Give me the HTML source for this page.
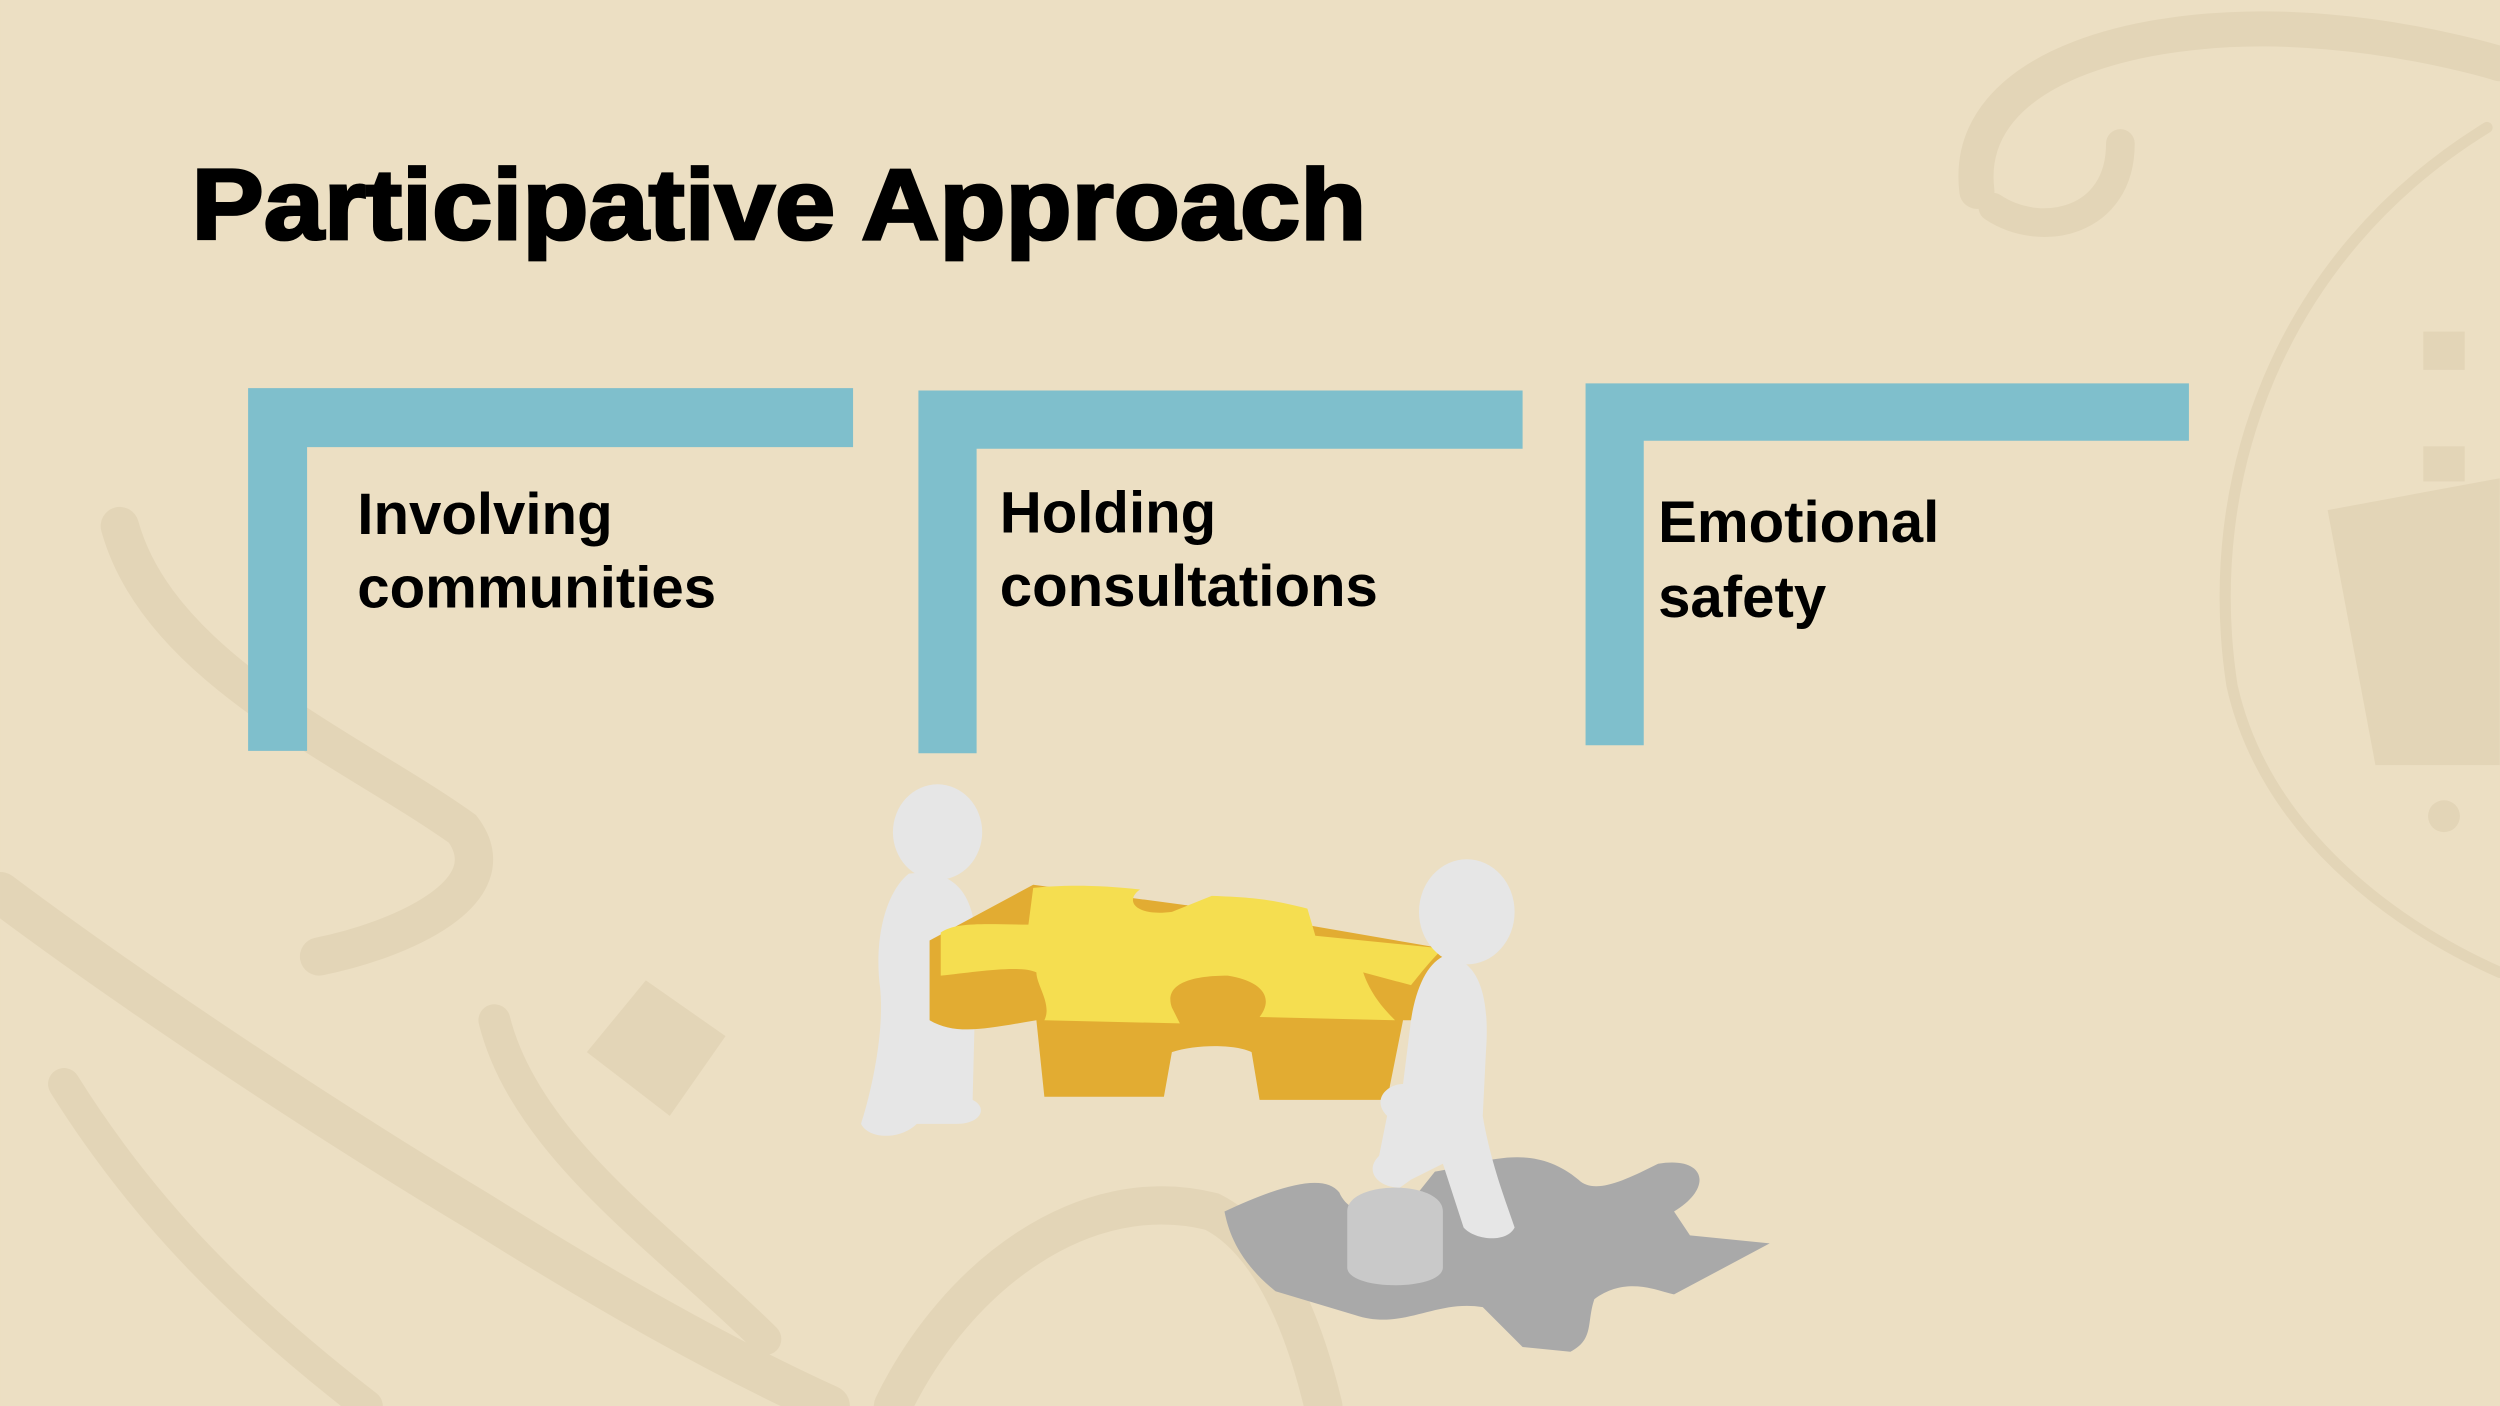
<!DOCTYPE html>
<html><head><meta charset="utf-8"><style>
html,body{margin:0;padding:0;background:#ecdfc3;}
svg{display:block}
</style></head><body>
<svg width="2500" height="1406" viewBox="0 0 1568 882" xmlns="http://www.w3.org/2000/svg">
<rect width="1568" height="882" fill="#ecdfc3"/>
<g fill="none" stroke="#e3d5b7" stroke-linecap="round">
  <path d="M1240 120 C1230 40 1350 10 1460 20 C1520 25 1568 40 1568 40" stroke-width="22"/>
  <path d="M1330 90 C1330 140 1280 150 1250 130" stroke-width="18"/>
  <path d="M1560 80 C1430 160 1380 300 1400 430 C1420 520 1500 580 1568 610" stroke-width="7"/>
  <path d="M75 330 C100 420 220 470 290 520 C320 560 250 590 200 600" stroke-width="24"/>
  <path d="M0 560 C80 620 200 700 300 760 C380 810 450 850 520 882" stroke-width="26"/>
  <path d="M40 680 C90 760 150 820 230 882" stroke-width="20"/>
  <path d="M310 640 C330 720 420 780 480 840" stroke-width="20"/>
  <path d="M560 882 C600 800 680 740 760 760 C800 780 820 840 830 882" stroke-width="24"/>
</g>
<g fill="#e3d5b7">
  <rect x="1520" y="208" width="26" height="24"/>
  <rect x="1520" y="280" width="26" height="22"/>
  <path d="M1460 320 L1568 300 L1568 480 L1490 480 Z"/>
  <circle cx="1533" cy="512" r="10"/>
  <polygon points="368,660 405,615 455,650 420,700"/>
</g>
<text x="120" y="150" textLength="737" lengthAdjust="spacingAndGlyphs" font-family="Liberation Sans, Arial, sans-serif" font-weight="bold" font-size="63" fill="#000" stroke="#000" stroke-width="1.8">Participative Approach</text>
<g fill="#7fbfcc">
  <path d="M155.5 243.5 H535 V280.5 H192.5 V471 H155.5 Z"/>
  <path d="M576 245 H955 V281.5 H612.5 V472.5 H576 Z"/>
  <path d="M994.5 240.5 H1373 V276.5 H1031 V467.5 H994.5 Z"/>
</g>
<g font-family="Liberation Sans, Arial, sans-serif" font-weight="bold" font-size="36.5" fill="#000">
  <text x="224" y="335">Involving</text>
  <text x="224" y="381">communities</text>
  <text x="627" y="334">Holding</text>
  <text x="627" y="380">consultations</text>
  <text x="1040" y="340">Emotional</text>
  <text x="1040" y="387">safety</text>
</g>
<path d="M768 760 C800 745 830 735 840 748 C845 760 860 765 880 760 L900 735 C930 730 960 715 990 740 C1000 750 1020 740 1040 730 C1070 725 1075 745 1050 760 L1060 775 L1110 780 L1050 812 C1040 810 1020 800 1000 815 C995 830 1000 840 985 848 L955 845 L930 820 C900 815 880 835 850 825 L800 810 C775 790 770 770 768 760 Z" fill="#a9a9a9"/>
<path d="M845 760 C845 740 905 740 905 760 L905 795 C905 810 845 810 845 795 Z" fill="#c9c9c9"/>
<g fill="#e6e6e6">
  <ellipse cx="588" cy="522" rx="28" ry="30"/>
  <path d="M570 548 C600 545 615 560 612 610 L610 690 C620 695 615 705 600 705 L575 705 C565 715 545 715 540 705 C545 690 555 650 552 620 C548 590 555 560 570 548 Z"/>
</g>
<path d="M583 590 L583 640 C600 650 620 645 650 640 L655 688 L730 688 L735 660 C750 655 775 655 785 660 L790 690 L870 690 L880 640 L905 640 L905 595 L760 570 L648 555 Z" fill="#e2ac32"/>
<path d="M590 585 C600 578 620 580 645 580 L648 557 C665 555 690 555 715 558 C705 565 712 575 735 572 L760 562 C790 563 800 565 820 570 L825 587 L905 595 C895 605 890 612 885 618 L855 610 C860 625 870 635 875 640 L790 638 C800 625 790 615 770 612 C745 612 730 618 735 632 L740 642 L655 640 C660 630 650 618 650 610 C640 605 610 610 590 612 Z" fill="#f5de50"/>
<g fill="#e6e6e6">
  <ellipse cx="920" cy="572" rx="30" ry="33"/>
  <path d="M905 600 C925 600 935 620 932 660 L930 700 C935 730 945 755 950 770 C945 780 925 778 918 770 L905 730 L885 740 L878 745 C865 745 855 735 865 725 L870 700 C860 690 870 680 880 680 L885 640 C888 620 895 605 905 600 Z"/>
</g>
</svg>
</body></html>
